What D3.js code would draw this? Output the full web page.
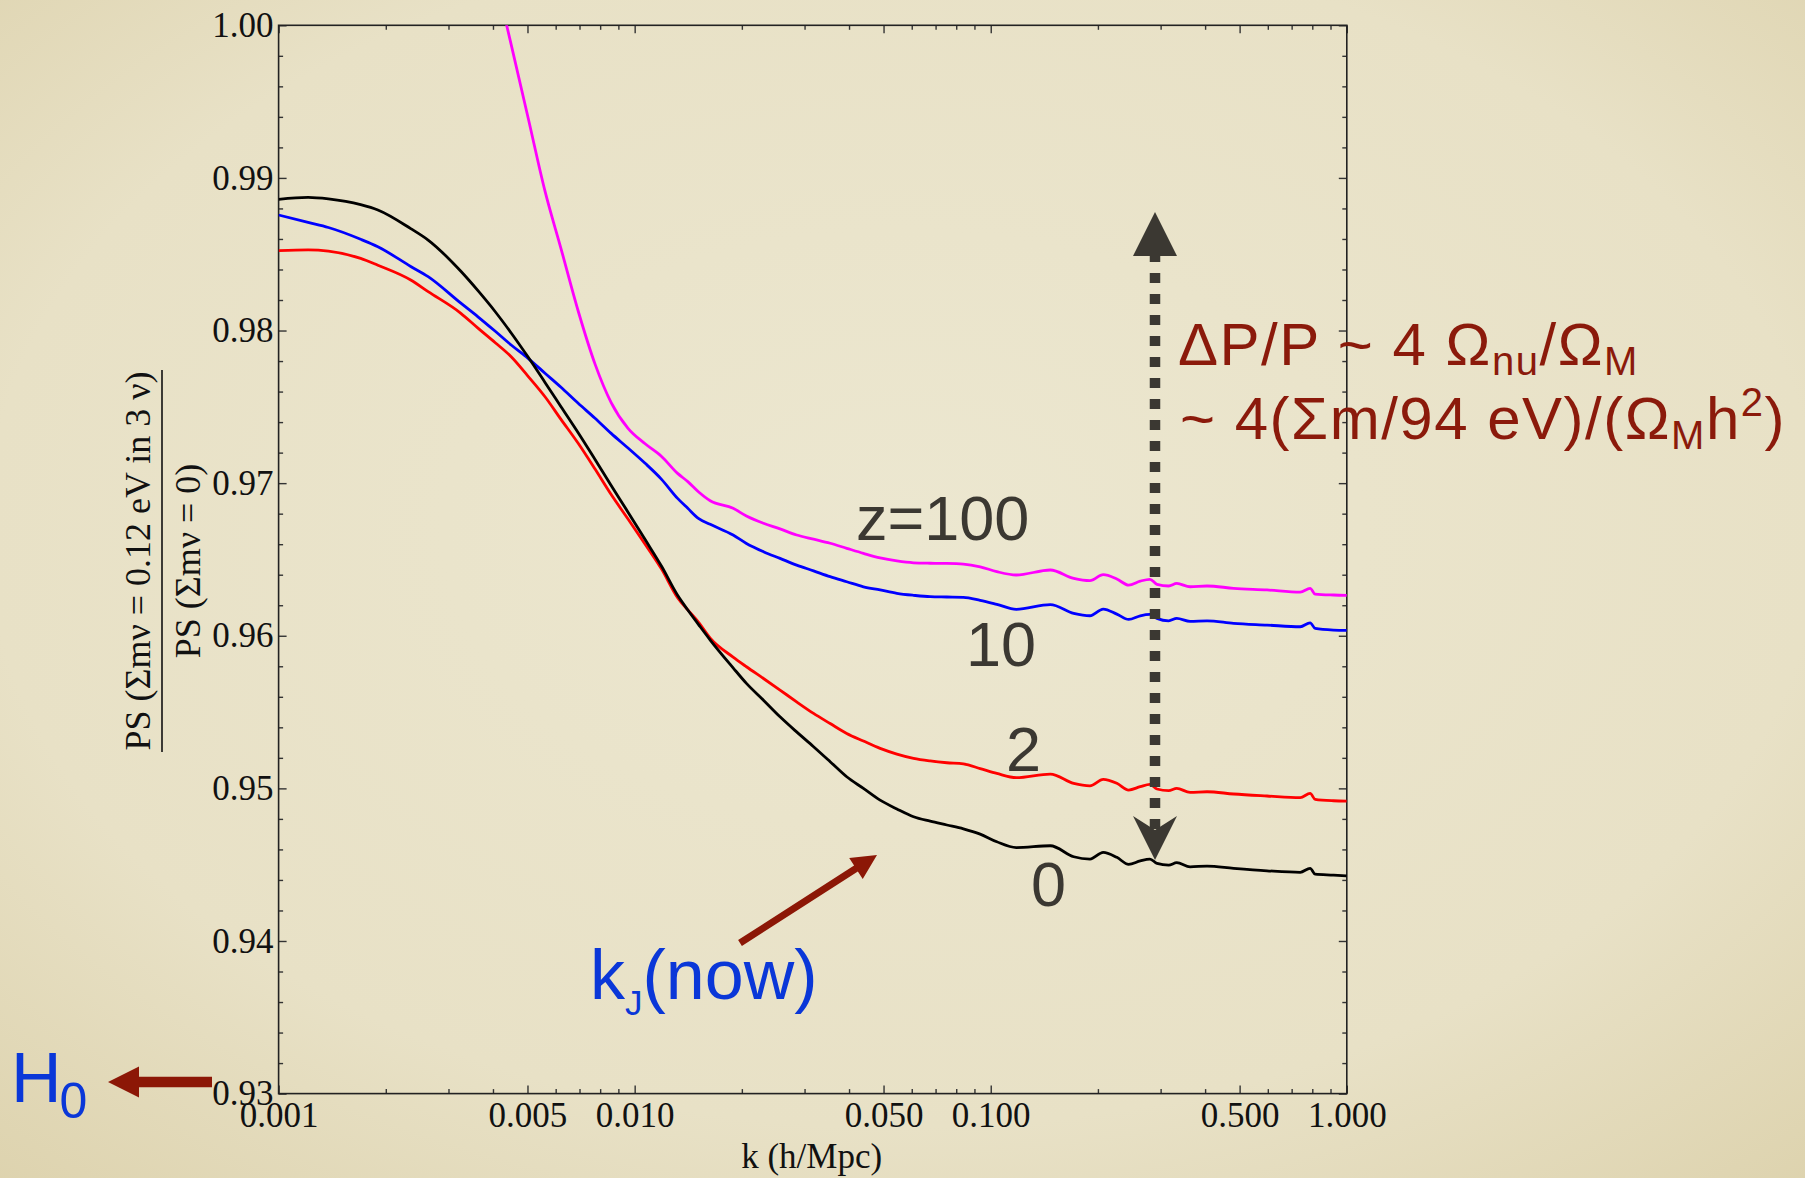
<!DOCTYPE html>
<html>
<head>
<meta charset="utf-8">
<script src="https://cdn.jsdelivr.net/npm/d3@7"></script>
<style>
  html, body { margin: 0; padding: 0; overflow: hidden; }
  svg { display: block; }
</style>
</head>
<body>
<svg id="chart" width="1805" height="1178"></svg>
<script>
// k in h/Mpc, sampled along the log axis
const kValues = [0.001, 0.00121, 0.00138, 0.0017, 0.0019, 0.00235, 0.00263, 0.00325, 0.00363, 0.00406,
  0.0045, 0.00502, 0.0056, 0.00621, 0.00694, 0.00774, 0.00859, 0.00958, 0.0107, 0.0119,
  0.0132, 0.0141, 0.0151, 0.0163, 0.0189, 0.0206, 0.023, 0.0256, 0.0285, 0.0318,
  0.0354, 0.0394, 0.0439, 0.0489, 0.0545, 0.0607, 0.0676, 0.0753, 0.0838, 0.0934,
  0.104, 0.118, 0.147, 0.171, 0.19, 0.207, 0.226, 0.244, 0.263, 0.28,
  0.293, 0.316, 0.333, 0.363, 0.405, 0.481, 0.597, 0.74, 0.789, 0.815, 0.918, 1.0];

// PS ratio, one array per redshift
const ratioZ0 = [0.98860, 0.98873, 0.98863, 0.98825, 0.98790, 0.98668, 0.98593, 0.98388, 0.98261, 0.98123,
  0.97984, 0.97826, 0.97660, 0.97501, 0.97330, 0.97155, 0.96985, 0.96810, 0.96630, 0.96455,
  0.96265, 0.96169, 0.96075, 0.95972, 0.95790, 0.95688, 0.95578, 0.95469, 0.95370, 0.95273,
  0.95175, 0.95076, 0.95000, 0.94923, 0.94865, 0.94814, 0.94785, 0.94760, 0.94735, 0.94700,
  0.94650, 0.94612, 0.94624, 0.94552, 0.94537, 0.94581, 0.94548, 0.94502, 0.94525, 0.94537,
  0.94508, 0.94497, 0.94513, 0.94486, 0.94491, 0.94476, 0.94460, 0.94450, 0.94476, 0.94438, 0.94432, 0.94427];

const ratioZ2 = [0.98523, 0.98528, 0.98520, 0.98473, 0.98428, 0.98331, 0.98255, 0.98113, 0.98016, 0.97920,
  0.97828, 0.97700, 0.97566, 0.97418, 0.97261, 0.97092, 0.96925, 0.96765, 0.96600, 0.96437,
  0.96250, 0.96169, 0.96090, 0.95985, 0.95860, 0.95797, 0.95720, 0.95644, 0.95567, 0.95491,
  0.95425, 0.95360, 0.95310, 0.95262, 0.95225, 0.95197, 0.95180, 0.95168, 0.95160, 0.95130,
  0.95098, 0.95070, 0.95094, 0.95033, 0.95017, 0.95059, 0.95033, 0.94989, 0.95011, 0.95026,
  0.94996, 0.94985, 0.95000, 0.94974, 0.94978, 0.94963, 0.94950, 0.94939, 0.94967, 0.94928, 0.94919, 0.94917];

const ratioZ10 = [0.98757, 0.98708, 0.98675, 0.98598, 0.98549, 0.98420, 0.98353, 0.98179, 0.98090, 0.97995,
  0.97905, 0.97818, 0.97720, 0.97628, 0.97523, 0.97425, 0.97326, 0.97230, 0.97130, 0.97025,
  0.96900, 0.96835, 0.96769, 0.96730, 0.96660, 0.96605, 0.96551, 0.96507, 0.96463, 0.96425,
  0.96387, 0.96354, 0.96321, 0.96300, 0.96278, 0.96265, 0.96256, 0.96254, 0.96252, 0.96232,
  0.96206, 0.96173, 0.96204, 0.96147, 0.96131, 0.96175, 0.96142, 0.96107, 0.96131, 0.96140,
  0.96114, 0.96098, 0.96114, 0.96094, 0.96098, 0.96081, 0.96070, 0.96059, 0.96085, 0.96048, 0.96037, 0.96035];

const ratioZ100 = [null, null, null, null, null, null, null, null, null, 1.0032,
  0.99873, 0.99394, 0.98913, 0.98537, 0.98128, 0.97780, 0.97528, 0.97359, 0.97258, 0.97175,
  0.97064, 0.97010, 0.96944, 0.96885, 0.96835, 0.96785, 0.96737, 0.96700, 0.96660, 0.96633,
  0.96606, 0.96573, 0.96540, 0.96510, 0.96490, 0.96478, 0.96475, 0.96474, 0.96470, 0.96452,
  0.96420, 0.96398, 0.96431, 0.96376, 0.96361, 0.96400, 0.96372, 0.96332, 0.96358, 0.96370,
  0.96337, 0.96326, 0.96343, 0.96321, 0.96326, 0.96311, 0.96300, 0.96286, 0.96311, 0.96273, 0.96267, 0.96265];

// axis ticks
const xMajor = [0.001, 0.005, 0.01, 0.05, 0.1, 0.5, 1];
const xMinor = [0.002, 0.003, 0.004, 0.006, 0.007, 0.008, 0.009,
  0.02, 0.03, 0.04, 0.06, 0.07, 0.08, 0.09,
  0.2, 0.3, 0.4, 0.6, 0.7, 0.8, 0.9];
const yMajor = [0.93, 0.94, 0.95, 0.96, 0.97, 0.98, 0.99, 1.00];
const yMinor = d3.range(0, 35).map(i => 0.93 + i * 0.002).filter((v, i) => i % 5 !== 0);

const curveLabels = ['z=100', '10', '2', '0'];

const svg = d3.select('#chart');
const W = 1805, H = 1178;
const M = { left: 278.6, right: 1346.8, top: 25.3, bottom: 1093.6 };

const x = d3.scaleLog().domain([0.001, 1]).range([M.left, M.right]);
const y = d3.scaleLinear().domain([0.93, 1.0]).range([M.bottom, M.top]);

// background (beige slide)
const defs = svg.append('defs');
const bg = defs.append('radialGradient').attr('id', 'bg')
  .attr('cx', '50%').attr('cy', '45%').attr('r', '78%');
bg.append('stop').attr('offset', '0%').attr('stop-color', '#ece7d0');
bg.append('stop').attr('offset', '65%').attr('stop-color', '#e8e1c6');
bg.append('stop').attr('offset', '100%').attr('stop-color', '#dcd1ab');
svg.append('rect').attr('width', W).attr('height', H).attr('fill', 'url(#bg)');

defs.append('clipPath').attr('id', 'plotclip').append('rect')
  .attr('x', M.left).attr('y', M.top)
  .attr('width', M.right - M.left).attr('height', M.bottom - M.top);

// axes: inward ticks on all four sides
const SERIF = '"Liberation Serif", "Times New Roman", serif';
const SANS = '"Liberation Sans", Arial, Helvetica, sans-serif';

function styleAxis(g) {
  g.select('.domain').remove();
  g.selectAll('.tick line').attr('stroke', '#333').attr('stroke-width', 1.4);
  g.selectAll('.tick text').attr('font-family', SERIF).attr('font-size', 35).attr('fill', '#111');
}

svg.append('g').attr('transform', `translate(0,${M.bottom})`)
  .call(d3.axisBottom(x).tickValues(xMajor).tickFormat(d3.format('.3f')).tickSize(-8).tickPadding(9))
  .call(styleAxis);
svg.append('g').attr('transform', `translate(0,${M.bottom})`)
  .call(d3.axisBottom(x).tickValues(xMinor).tickFormat('').tickSize(-4.5))
  .call(styleAxis);
svg.append('g').attr('transform', `translate(0,${M.top})`)
  .call(d3.axisTop(x).tickValues(xMajor).tickFormat('').tickSize(-8))
  .call(styleAxis);
svg.append('g').attr('transform', `translate(0,${M.top})`)
  .call(d3.axisTop(x).tickValues(xMinor).tickFormat('').tickSize(-4.5))
  .call(styleAxis);

svg.append('g').attr('transform', `translate(${M.left},0)`)
  .call(d3.axisLeft(y).tickValues(yMajor).tickFormat(d3.format('.2f')).tickSize(-8).tickPadding(5))
  .call(styleAxis);
svg.append('g').attr('transform', `translate(${M.left},0)`)
  .call(d3.axisLeft(y).tickValues(yMinor).tickFormat('').tickSize(-4.5))
  .call(styleAxis);
svg.append('g').attr('transform', `translate(${M.right},0)`)
  .call(d3.axisRight(y).tickValues(yMajor).tickFormat('').tickSize(-8))
  .call(styleAxis);
svg.append('g').attr('transform', `translate(${M.right},0)`)
  .call(d3.axisRight(y).tickValues(yMinor).tickFormat('').tickSize(-4.5))
  .call(styleAxis);

svg.append('rect')
  .attr('x', M.left).attr('y', M.top)
  .attr('width', M.right - M.left).attr('height', M.bottom - M.top)
  .attr('fill', 'none').attr('stroke', '#222').attr('stroke-width', 1.6);

// axis titles
svg.append('text').attr('x', (M.left + M.right) / 2 - 1).attr('y', 1168)
  .attr('text-anchor', 'middle').attr('font-family', SERIF).attr('font-size', 35).attr('fill', '#111')
  .text('k (h/Mpc)');

const yl = svg.append('g').attr('transform', 'translate(0,561) rotate(-90)')
  .attr('font-family', SERIF).attr('font-size', 36).attr('fill', '#111').attr('text-anchor', 'middle');
yl.append('text').attr('x', 0).attr('y', 150).text('PS (\u03A3m\u03BD = 0.12 eV in 3 \u03BD)');
yl.append('line').attr('x1', -191).attr('x2', 191).attr('y1', 162).attr('y2', 162)
  .attr('stroke', '#111').attr('stroke-width', 1.6);
yl.append('text').attr('x', 0).attr('y', 200).text('PS (\u03A3m\u03BD = 0)');

// curves
const series = [
  { vals: ratioZ100, color: '#ff00ff' },
  { vals: ratioZ10, color: '#0000ff' },
  { vals: ratioZ2, color: '#ff0000' },
  { vals: ratioZ0, color: '#000000' }
];
const line = d3.line()
  .defined(d => d.v != null)
  .x(d => x(d.k)).y(d => y(d.v))
  .curve(d3.curveMonotoneX);

svg.append('g').attr('clip-path', 'url(#plotclip)')
  .selectAll('path').data(series).enter().append('path')
  .attr('d', s => line(kValues.map((k, i) => ({ k, v: s.vals[i] }))))
  .attr('fill', 'none').attr('stroke', s => s.color)
  .attr('stroke-width', 2.8).attr('stroke-linejoin', 'round');

// redshift labels
const INK = '#3b3832';
const labelPos = [[856, 540], [966, 666], [1006, 771], [1031, 906]];
svg.append('g').selectAll('text').data(curveLabels).enter().append('text')
  .attr('x', (d, i) => labelPos[i][0]).attr('y', (d, i) => labelPos[i][1])
  .attr('font-family', SANS).attr('font-size', 63).attr('fill', INK)
  .text(d => d);

// dotted double arrow
svg.append('line').attr('x1', 1155).attr('x2', 1155).attr('y1', 252).attr('y2', 830)
  .attr('stroke', INK).attr('stroke-width', 10.5).attr('stroke-dasharray', '10 11');
svg.append('polygon').attr('points', '1155,212 1177,256 1133,256').attr('fill', INK);
svg.append('polygon').attr('points', '1133,816 1155,830 1177,816 1155,860').attr('fill', INK);

// block arrow helper (solid shaft + triangular head)
function arrow(x1, y1, x2, y2, w, hl, hw, color) {
  const dx = x2 - x1, dy = y2 - y1, L = Math.hypot(dx, dy);
  const ux = dx / L, uy = dy / L, px = -uy, py = ux;
  const bx = x2 - ux * hl, by = y2 - uy * hl;
  const pts = [
    [x1 + px * w / 2, y1 + py * w / 2], [bx + px * w / 2, by + py * w / 2],
    [bx + px * hw, by + py * hw], [x2, y2], [bx - px * hw, by - py * hw],
    [bx - px * w / 2, by - py * w / 2], [x1 - px * w / 2, y1 - py * w / 2]
  ];
  svg.append('polygon').attr('points', pts.map(p => p.join(',')).join(' ')).attr('fill', color);
}
const DARKRED = '#8c1706';
arrow(740, 943, 877, 855, 7, 25, 12.5, DARKRED);
arrow(212, 1082, 108, 1082, 10.7, 31, 15.5, DARKRED);

// formula
const f = svg.append('g').attr('font-family', SANS).attr('fill', '#8b1a0b')
  .attr('letter-spacing', 1.5);
const l1 = f.append('text').attr('x', 1178).attr('y', 365).attr('font-size', 60);
l1.append('tspan').text('\u0394P/P ~ 4 \u03A9');
l1.append('tspan').attr('font-size', 40).attr('dy', 10).text('nu');
l1.append('tspan').attr('dy', -10).text('/\u03A9');
l1.append('tspan').attr('font-size', 40).attr('dy', 10).text('M');
const l2 = f.append('text').attr('x', 1180).attr('y', 439).attr('font-size', 60);
l2.append('tspan').text('~ 4(\u03A3m/94 eV)/(\u03A9');
l2.append('tspan').attr('font-size', 40).attr('dy', 10).text('M');
l2.append('tspan').attr('dy', -10).text('h');
l2.append('tspan').attr('font-size', 40).attr('dy', -23).text('2');
l2.append('tspan').attr('dy', 23).text(')');

// k_J(now) and H0
const BLUE = '#0a37d8';
const kj = svg.append('text').attr('x', 590).attr('y', 999).attr('font-family', SANS)
  .attr('font-size', 70).attr('fill', BLUE);
kj.append('tspan').text('k');
kj.append('tspan').attr('font-size', 35).attr('dy', 16).text('J');
kj.append('tspan').attr('dy', -16).text('(now)');

const h0 = svg.append('text').attr('x', 11).attr('y', 1102).attr('font-family', SANS)
  .attr('font-size', 70).attr('fill', BLUE);
h0.append('tspan').text('H');
h0.append('tspan').attr('font-size', 50).attr('dx', -2).attr('dy', 16).text('0');
</script>
</body>
</html>
